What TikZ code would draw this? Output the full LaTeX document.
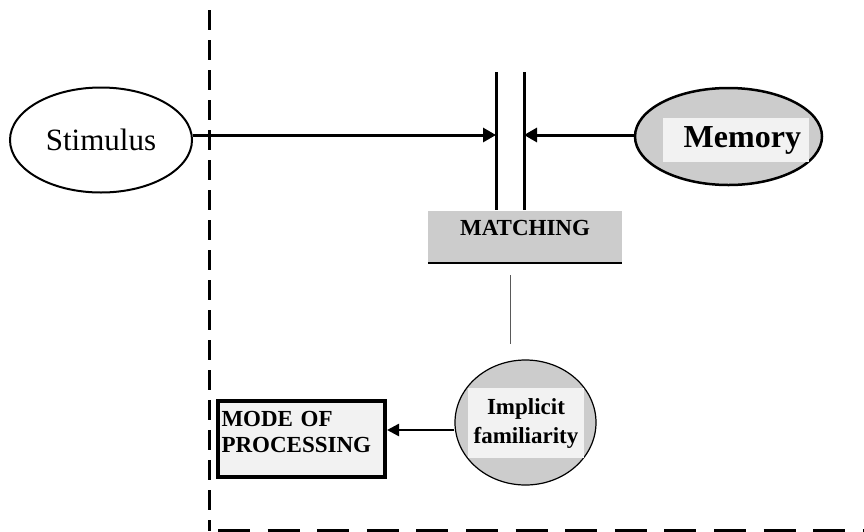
\documentclass[tikz,border=0pt]{standalone}
\usepackage{fontspec}
\setmainfont{Liberation Serif}
\usetikzlibrary{arrows.meta,shapes.geometric}
\definecolor{relleno}{HTML}{CCCCCC}
\definecolor{claro}{HTML}{F2F2F2}
\tikzset{
  ovalo/.style={ellipse, draw, inner sep=0pt},
  flecha/.style={line width=3pt, -{Triangle[length=13pt,width=14pt]}},
  flechita/.style={line width=2.5pt, -{Triangle[length=12pt,width=12pt]}},
  barra/.style={line width=3pt},
  negrita/.style={font=\fontsize{23}{26}\selectfont\bfseries}
}
\begin{document}
\begin{tikzpicture}[x=1pt,y=-1pt]
\useasboundingbox (0,0) rectangle (864,531);

% Frontera discontinua
\draw[line width=3pt, dash pattern=on 20pt off 10pt] (209,10) -- (209,531);
\draw[line width=3pt, dash pattern=on 32pt off 17.6pt] (218,530) -- (864,530);

% Estimulo y memoria
\node[ovalo, line width=2pt, minimum width=182pt, minimum height=105pt,
  font=\fontsize{31}{36}\selectfont] (estimulo) at (101,140) {Stimulus};
\node[ovalo, line width=2.5pt, fill=relleno, minimum width=187pt, minimum height=97pt] (memoria) at (728.5,136.5) {};
\node[fill=claro, minimum width=146pt, minimum height=44pt, inner xsep=8pt, text width=130pt,
  align=right, font=\fontsize{32}{36}\selectfont\bfseries] (memtxt) at (736,140) {Memory};

% Barras de comparacion
\draw[barra] (496,72) -- (496,210);
\draw[barra] (524,72) -- (524,210);
\coordinate (entradaA) at (496,135);
\coordinate (entradaB) at (524,135);
\draw[flecha] (estimulo.east |- entradaA) -- (entradaA);
\draw[flecha] (memoria.west |- entradaB) -- (entradaB);

% Caja MATCHING
\node[fill=relleno, negrita, minimum width=194pt, minimum height=52pt, inner ysep=4pt,
  text height=20.5pt, text depth=23.5pt] (comparacion) at (525,237) {MATCHING};
\draw[line width=2pt] (comparacion.south west) -- (comparacion.south east);

% Enlace fino
\coordinate (enlaceA) at (510,275);
\coordinate (enlaceB) at (510,344);
\draw[line width=1pt, black!65] (enlaceA) -- (enlaceB);

% Familiaridad implicita
\node[ovalo, line width=1.2pt, fill=relleno, minimum width=141pt, minimum height=125pt] (implicita) at (525.5,422.5) {};
\node[fill=claro, negrita, align=center, minimum width=116pt, minimum height=70pt,
  font=\fontsize{23}{29}\selectfont\bfseries] (impltxt) at (526,423) {Implicit\\familiarity};

% Modo de procesamiento
\node[draw, line width=4pt, fill=claro, negrita, minimum width=167pt, minimum height=76pt,
  text width=160pt, align=left, inner xsep=3.5pt, inner ysep=4pt,
  text height=21.5pt, text depth=46.5pt] (modo) at (301.5,439) {MODE OF\\PROCESSING};
\coordinate (salida) at (387,430);
\draw[flechita] (implicita.west |- salida) -- (salida);
\end{tikzpicture}
\end{document}
